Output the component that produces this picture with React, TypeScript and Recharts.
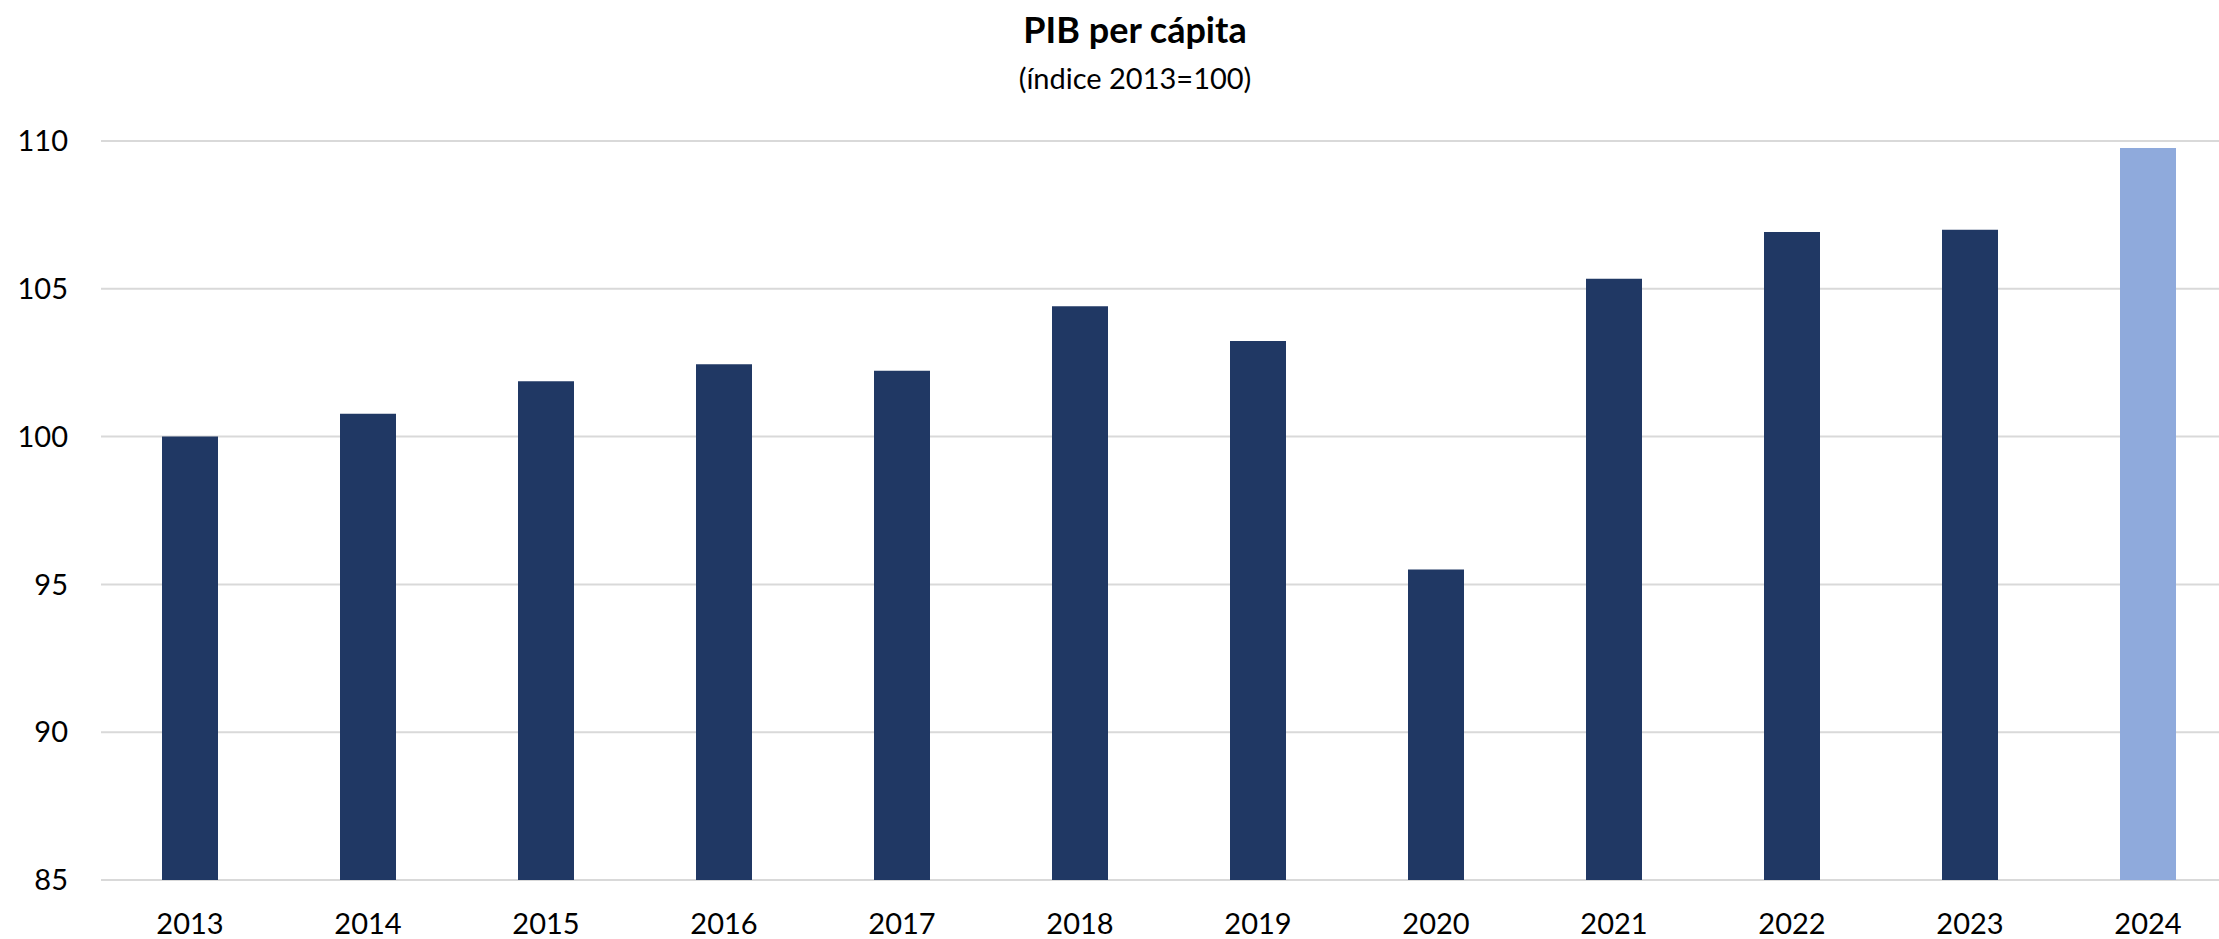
import { BarChart, Bar, XAxis, YAxis, CartesianGrid, Cell } from "recharts";

const years = ["2013", "2014", "2015", "2016", "2017", "2018", "2019", "2020", "2021", "2022", "2023", "2024"];
const gdpIndex = [100.0, 100.77, 101.87, 102.45, 102.23, 104.41, 103.23, 95.5, 105.34, 106.92, 107.0, 109.76];
const yTicks = [85, 90, 95, 100, 105, 110];

const DARK = "#203864";
const LIGHT = "#8FAADC";
const FONT = "Lato, 'Open Sans', sans-serif";

const data = years.map((year, i) => ({ year, value: gdpIndex[i] }));

export default function App() {
  return (
    <div
      style={{
        position: "absolute",
        left: 0,
        top: 0,
        width: 2219,
        height: 939,
        overflow: "hidden",
        background: "#fff",
        fontFamily: FONT,
      }}
    >
      <div
        style={{
          position: "absolute",
          left: 0,
          width: 2270,
          top: 7,
          textAlign: "center",
          fontSize: 36,
          fontWeight: 700,
          color: "#000",
        }}
      >
        PIB per cápita
      </div>
      <div
        style={{
          position: "absolute",
          left: 0,
          width: 2270,
          top: 60,
          textAlign: "center",
          fontSize: 29,
          color: "#000",
        }}
      >
        (índice 2013=100)
      </div>
      <BarChart
        width={2237}
        height={939}
        data={data}
        margin={{ top: 141, right: 0, bottom: 0, left: 0 }}
        style={{ position: "absolute", left: 0, top: 0 }}
      >
        <CartesianGrid vertical={false} stroke="#d9d9d9" strokeWidth={2} />
        <XAxis
          dataKey="year"
          height={59}
          axisLine={false}
          tickLine={false}
          tickSize={0}
          tickMargin={33}
          tick={{ fill: "#000", fontSize: 29, fontFamily: FONT }}
        />
        <YAxis
          domain={[85, 110]}
          ticks={yTicks}
          width={101}
          axisLine={false}
          tickLine={false}
          tickSize={0}
          tickMargin={33}
          tick={{ fill: "#000", fontSize: 29, fontFamily: FONT }}
        />
        <Bar dataKey="value" barSize={56} isAnimationActive={false}>
          {data.map((d) => (
            <Cell key={d.year} fill={d.year === "2024" ? LIGHT : DARK} />
          ))}
        </Bar>
      </BarChart>
    </div>
  );
}
